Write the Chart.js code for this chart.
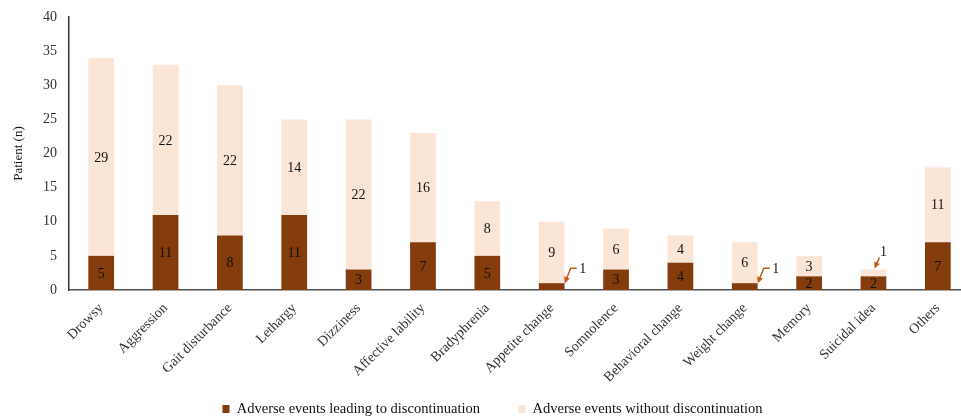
<!DOCTYPE html>
<html>
<head>
<meta charset="utf-8">
<script src="https://cdn.jsdelivr.net/npm/chart.js@4/dist/chart.umd.min.js"></script>
<style>
  html, body { margin: 0; padding: 0; background: #ffffff; overflow: hidden; }
  #wrap { width: 970px; height: 418px; }
</style>
</head>
<body>
<div id="wrap"><canvas id="chart" width="970" height="418"></canvas></div>
<script>
// Adverse events by type, split by whether they led to discontinuation
const categories = [
  'Drowsy', 'Aggression', 'Gait disturbance', 'Lethargy', 'Dizziness',
  'Affective lability', 'Bradyphrenia', 'Appetite change', 'Somnolence',
  'Behavioral change', 'Weight change', 'Memory', 'Suicidal idea', 'Others'
];
const seriesNames = [
  'Adverse events leading to discontinuation',
  'Adverse events without discontinuation'
];
const leadingToDiscontinuation = [5, 11, 8, 11, 3, 7, 5, 1, 3, 4, 1, 2, 2, 7];
const withoutDiscontinuation   = [29, 22, 22, 14, 22, 16, 8, 9, 6, 4, 6, 3, 1, 11];
const yAxisMax = 40;
const yAxisStep = 5;

const SERIF = '"Liberation Serif", "Times New Roman", serif';
const ARROW_COLOR = '#C55A11';

// Small segments get their value placed beside the bar with a pointer.
// Offsets are in pixels relative to the top-centre of the bar segment.
const callouts = [
  { dataset: 0, index: 7,  label: [31, -14], path: [[25, -15], [19, -15], [13, 0]] },
  { dataset: 0, index: 10, label: [31, -14], path: [[25, -15], [19, -15], [13, 0]] },
  { dataset: 1, index: 12, label: [10, -17], path: [[6, -12], [1, -1]] }
];

// Extra trailing room after the first legend entry (spaces draw nothing)
const legendTrail = ['       ', ''];

function drawPointer(ctx, x0, y0, pts) {
  ctx.save();
  ctx.strokeStyle = ARROW_COLOR;
  ctx.fillStyle = ARROW_COLOR;
  ctx.lineWidth = 1.5;
  const abs = pts.map(p => [x0 + p[0], y0 + p[1]]);
  const n = abs.length;
  const [tx, ty] = abs[n - 1];
  const [px, py] = abs[n - 2];
  const ang = Math.atan2(ty - py, tx - px);
  const head = 7;
  ctx.beginPath();
  ctx.moveTo(abs[0][0], abs[0][1]);
  for (let i = 1; i < n - 1; i++) ctx.lineTo(abs[i][0], abs[i][1]);
  ctx.lineTo(tx - Math.cos(ang) * head * 0.8, ty - Math.sin(ang) * head * 0.8);
  ctx.stroke();
  ctx.beginPath();
  ctx.moveTo(tx, ty);
  ctx.lineTo(tx - head * Math.cos(ang - 0.45), ty - head * Math.sin(ang - 0.45));
  ctx.lineTo(tx - head * Math.cos(ang + 0.45), ty - head * Math.sin(ang + 0.45));
  ctx.closePath();
  ctx.fill();
  ctx.restore();
}

const valueLabels = {
  id: 'valueLabels',
  afterDatasetsDraw(chart) {
    const ctx = chart.ctx;
    ctx.save();
    ctx.font = '14px ' + SERIF;
    ctx.fillStyle = '#111111';
    ctx.textAlign = 'center';
    ctx.textBaseline = 'middle';
    chart.data.datasets.forEach((ds, di) => {
      const meta = chart.getDatasetMeta(di);
      meta.data.forEach((bar, i) => {
        const v = ds.data[i];
        const co = callouts.find(c => c.dataset === di && c.index === i);
        if (co) {
          drawPointer(ctx, bar.x, bar.y, co.path);
          ctx.fillStyle = '#111111';
          ctx.fillText(String(v), bar.x + co.label[0], bar.y + co.label[1]);
        } else {
          ctx.fillText(String(v), bar.x, (bar.y + bar.base) / 2 + 1);
        }
      });
    });
    ctx.restore();
  }
};

new Chart(document.getElementById('chart'), {
  type: 'bar',
  data: {
    labels: categories,
    datasets: [
      {
        label: seriesNames[0],
        data: leadingToDiscontinuation,
        backgroundColor: '#843C0C',
        barPercentage: 0.4,
        categoryPercentage: 1.0
      },
      {
        label: seriesNames[1],
        data: withoutDiscontinuation,
        backgroundColor: '#FBE5D6',
        barPercentage: 0.4,
        categoryPercentage: 1.0
      }
    ]
  },
  options: {
    responsive: false,
    animation: false,
    devicePixelRatio: 1,
    layout: { padding: { top: 17, right: 0, left: 15, bottom: -8.25 } },
    plugins: {
      legend: {
        position: 'bottom',
        labels: {
          boxWidth: 7,
          boxHeight: 8,
          padding: 13,
          color: '#111111',
          font: { family: SERIF, size: 14.5 },
          generateLabels(chart) {
            const items = Chart.defaults.plugins.legend.labels.generateLabels(chart);
            items.forEach((it, i) => { it.text = it.text + (legendTrail[i] || ''); });
            return items;
          }
        }
      },
      tooltip: { enabled: false }
    },
    scales: {
      x: {
        stacked: true,
        grid: { display: false },
        border: { display: true, color: '#505050', width: 1.5 },
        ticks: {
          autoSkip: false,
          maxRotation: 45,
          minRotation: 45,
          padding: 2,
          color: '#333333',
          font: { family: SERIF, size: 14 }
        },
        afterFit(scale) { scale.height = 98.75; }
      },
      y: {
        stacked: true,
        min: 0,
        max: yAxisMax,
        grid: { display: false },
        border: { display: true, color: '#333333', width: 1.5 },
        ticks: {
          stepSize: yAxisStep,
          padding: 4,
          color: '#333333',
          font: { family: SERIF, size: 14 }
        },
        title: {
          display: true,
          text: 'Patient (n)',
          color: '#111111',
          font: { family: SERIF, size: 13 },
          padding: { top: -3.8, bottom: 0 }
        },
        afterFit(scale) { scale.width = 54; }
      }
    }
  },
  plugins: [valueLabels]
});
</script>
</body>
</html>
